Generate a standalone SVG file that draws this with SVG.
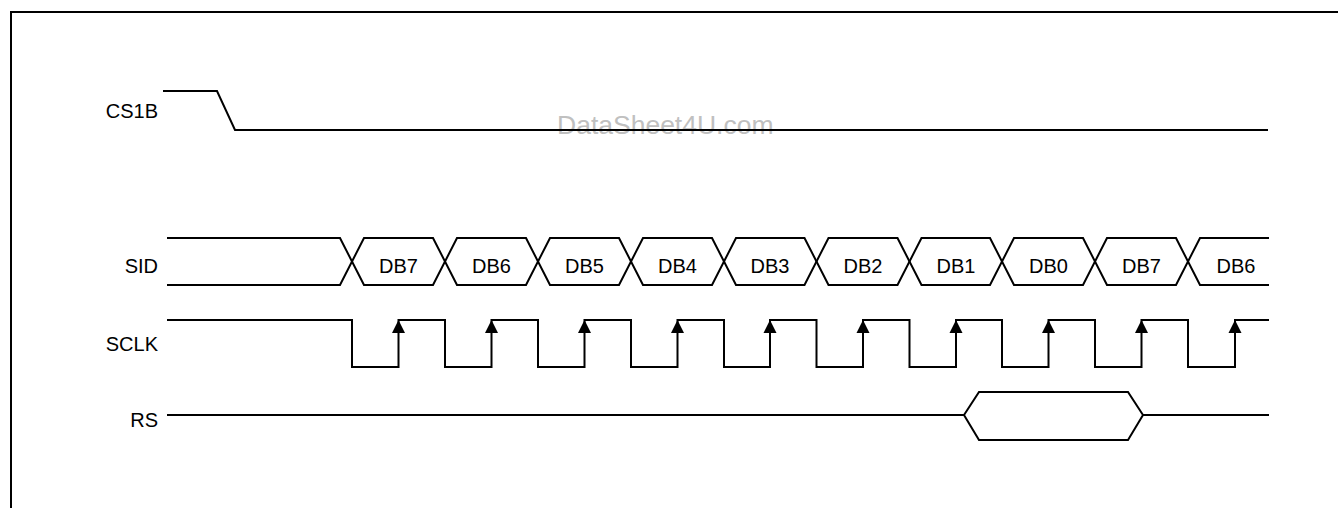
<svg xmlns="http://www.w3.org/2000/svg" width="1338" height="508" viewBox="0 0 1338 508">
<style>
.w{fill:none;stroke:#000;stroke-width:2;stroke-linejoin:miter}
.lbl{font-family:"Liberation Sans",Arial,sans-serif;font-size:20px;fill:#000}
.sig{text-anchor:end}
.db{text-anchor:middle}
.arr{fill:#000;stroke:none}
.wm{font-family:"Liberation Sans",Arial,sans-serif;font-size:26.5px;fill:#c0c0c0}
</style>
<rect width="1338" height="508" fill="#fff"/>
<text class="wm" x="557" y="134">DataSheet4U.com</text>
<path class="w" d="M11,508 V12 H1338" stroke-width="2.5"/>
<g id="labels">
<text class="lbl sig" x="158" y="118">CS1B</text>
<text class="lbl sig" x="158" y="273">SID</text>
<text class="lbl sig" x="158" y="351">SCLK</text>
<text class="lbl sig" x="158" y="427">RS</text>
</g>
<g id="connectors">
<g id="cs1b"><path class="w" d="M163,91 H217 L235,130 H1268"/></g>
<g id="sid">
<path class="w" d="M167,238 H340 L352,261.5 L340,285 H167"/>
<polygon class="w" points="352,261.5 364,238 433,238 445,261.5 433,285 364,285"/>
<polygon class="w" points="445,261.5 457,238 526,238 538,261.5 526,285 457,285"/>
<polygon class="w" points="538,261.5 550,238 619,238 631,261.5 619,285 550,285"/>
<polygon class="w" points="631,261.5 643,238 712,238 724,261.5 712,285 643,285"/>
<polygon class="w" points="724,261.5 736,238 804.5,238 816.5,261.5 804.5,285 736,285"/>
<polygon class="w" points="816.5,261.5 828.5,238 897.5,238 909.5,261.5 897.5,285 828.5,285"/>
<polygon class="w" points="909.5,261.5 921.5,238 990,238 1002,261.5 990,285 921.5,285"/>
<polygon class="w" points="1002,261.5 1014,238 1083,238 1095,261.5 1083,285 1014,285"/>
<polygon class="w" points="1095,261.5 1107,238 1176,238 1188,261.5 1176,285 1107,285"/>
<path class="w" d="M1269,238 H1200 L1188,261.5 L1200,285 H1269"/>
<text class="lbl db" x="398.5" y="273">DB7</text>
<text class="lbl db" x="491.5" y="273">DB6</text>
<text class="lbl db" x="584.5" y="273">DB5</text>
<text class="lbl db" x="677.5" y="273">DB4</text>
<text class="lbl db" x="770" y="273">DB3</text>
<text class="lbl db" x="863" y="273">DB2</text>
<text class="lbl db" x="956" y="273">DB1</text>
<text class="lbl db" x="1048.5" y="273">DB0</text>
<text class="lbl db" x="1141.5" y="273">DB7</text>
<text class="lbl db" x="1236" y="273">DB6</text>
</g>
<g id="sclk">
<path class="w" d="M167,320 H352 V367 H398.5 V320 H445 V367 H491.5 V320 H538 V367 H584.5 V320 H631 V367 H677.5 V320 H724 V367 H770 V320 H816.5 V367 H863 V320 H909.5 V367 H956 V320 H1002 V367 H1048.5 V320 H1095 V367 H1141.5 V320 H1188 V367 H1235 V320 H1269"/>
<polygon class="arr" points="398.5,320 392,333 405,333"/>
<polygon class="arr" points="491.5,320 485,333 498,333"/>
<polygon class="arr" points="584.5,320 578,333 591,333"/>
<polygon class="arr" points="677.5,320 671,333 684,333"/>
<polygon class="arr" points="770,320 763.5,333 776.5,333"/>
<polygon class="arr" points="863,320 856.5,333 869.5,333"/>
<polygon class="arr" points="956,320 949.5,333 962.5,333"/>
<polygon class="arr" points="1048.5,320 1042,333 1055,333"/>
<polygon class="arr" points="1141.5,320 1135,333 1148,333"/>
<polygon class="arr" points="1235,320 1228.5,333 1241.5,333"/>
</g>
<g id="rs">
<path class="w" d="M167,415 H964 M1143,415 H1269"/>
<polygon class="w" points="964,415 979,392 1128,392 1143,415 1128,440 979,440"/>
</g>
</g>
</svg>
